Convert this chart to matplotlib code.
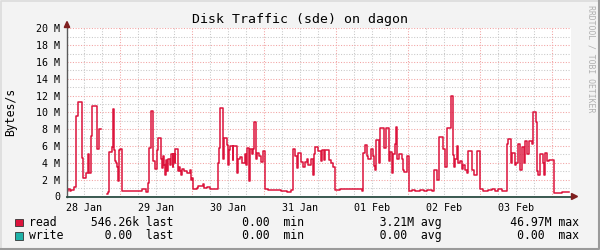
import numpy as np
import matplotlib
matplotlib.use("Agg")
import matplotlib.pyplot as plt
from matplotlib.patches import Rectangle, Polygon
from matplotlib.lines import Line2D

plt.rcParams["font.family"] = ["DejaVu Sans Mono", "DejaVu Sans"]

# read traffic: step start (hours after 28 Jan 00:00) and value (M bytes/s)
read_hours = [
    6.33, 6.83, 7.33, 7.83, 8.83, 9.33, 10.0, 11.23, 11.67, 12.57, 13.23, 13.77,
    14.33, 14.77, 16.23, 17.0, 17.5, 19.67, 20.0, 20.43, 21.23, 21.57, 22.0, 22.33,
    22.67, 22.9, 23.17, 23.43, 23.67, 23.9, 24.57, 26.0, 27.33, 28.67, 30.0, 31.43,
    32.1, 32.5, 33.23,
    33.57, 34.33, 35.0, 35.67, 36.23, 36.5, 37.67, 38.0, 38.33, 38.67, 39.0, 39.33,
    39.67, 40.0, 40.5, 41.0, 41.5, 41.83, 42.17, 42.33, 43.23, 43.67, 44.0, 44.33,
    44.67, 45.33, 46.23, 47.33, 47.67, 48.1, 48.43,
    49.57, 50.0, 51.57, 52.1, 52.9, 54.0, 55.0, 56.0, 56.77, 57.1, 57.33, 58.23,
    58.77, 59.57, 60.1, 60.43, 60.83, 61.57, 61.77, 62.9, 63.43, 64.0, 64.77, 65.5,
    66.0, 66.43, 66.9, 67.33, 68.1, 68.43, 68.67, 69.33, 69.67, 70.33, 71.0, 71.77,
    72.33, 73.33, 75.0, 77.67, 79.0, 79.57, 80.9,
    81.57, 82.17, 82.9, 83.23, 84.23, 84.9, 85.67, 86.23, 86.77, 87.57, 88.23, 88.67,
    89.0, 89.9, 90.9, 91.23, 92.1, 92.33, 93.77, 94.33, 95.1, 95.83, 97.33, 100.67,
    102.67, 104.57,
    105.1, 105.67, 106.33, 106.77, 107.57, 108.23, 108.67, 109.07, 109.43, 110.43,
    110.77, 112.0, 112.67, 113.67, 114.0, 114.57, 115.1, 115.67, 116.0, 116.33,
    117.0, 117.9, 118.33, 118.67, 119.57, 120.43,
    121.33, 122.33, 124.0, 125.33, 126.23, 127.9, 128.67, 129.77, 130.43, 131.77,
    132.33, 132.9, 134.23, 134.9, 135.33, 135.67, 136.23, 136.77, 137.33, 137.9,
    138.43, 139.0, 139.57, 140.1, 141.23, 142.0, 142.9, 144.0, 145.0, 146.67,
    147.9, 149.0, 150.1, 151.23,
    152.9, 153.43, 154.23, 154.77, 155.67, 156.0, 156.77, 157.33, 157.9, 158.67,
    159.0, 159.77, 160.43, 161.23, 161.77, 162.67, 163.1, 163.43, 164.0, 164.9,
    165.23, 165.67, 166.43, 167.1, 168.57, 169.33, 171.33, 172.83, 173.77,
]
read_vals = [
    0.6, 0.9, 0.6, 0.8, 1.1, 9.6, 11.2, 4.6, 2.2, 2.8, 5.0, 2.8,
    7.2, 10.8, 5.65, 8.0, np.nan, 0.3, 0.5, 5.3, 5.9, 10.4, 5.5, 4.2,
    4.0, 3.5, 3.2, 1.8, 5.5, 5.6, 0.65, 0.7, 0.6, 0.7, 0.65, 0.85,
    0.9, 0.55, 1.6,
    5.8, 10.2, 4.2, 3.3, 5.5, 6.9, 4.4, 3.4, 4.8, 3.7, 2.6, 4.3,
    3.0, 4.5, 3.8, 5.1, 3.5, 5.1, 4.0, 5.6, 3.0, 3.5, 3.0, 2.5,
    3.3, 3.0, 2.8, 3.2, 2.0, 2.2, 0.85,
    1.05, 1.2, 1.45, 1.05, 1.15, 0.95, 0.9, 0.85, 4.0, 5.8, 10.5, 4.5,
    7.0, 6.1, 3.8, 5.5, 6.0, 4.3, 6.0, 2.8, 4.5, 4.7, 4.0, 5.0,
    3.8, 5.8, 1.9, 5.6, 5.0, 5.6, 8.8, 4.4, 5.2, 4.8, 4.1, 5.4,
    0.95, 0.8, 0.75, 0.7, 0.65, 0.5, 0.8,
    5.7, 4.8, 3.4, 5.2, 4.1, 3.5, 4.1, 4.4, 3.8, 4.4, 2.6, 5.0,
    5.9, 5.4, 4.2, 5.5, 4.3, 5.5, 4.3, 4.0, 3.5, 0.75, 0.85, 0.9,
    0.85, 0.7,
    5.2, 6.1, 4.8, 4.5, 5.6, 4.8, 3.6, 3.2, 6.7, 4.0,
    8.2, 5.8, 8.2, 4.2, 5.3, 2.8, 5.1, 6.3, 8.3, 4.5,
    5.1, 4.5, 3.2, 2.9, 4.8, 0.7,
    0.8, 0.7, 0.8, 0.7, 0.8, 0.6, 3.2, 2.0, 7.1, 5.6,
    3.5, 8.2, 11.9, 4.9, 3.5, 4.5, 6.0, 4.0, 4.2, 3.3,
    3.7, 3.2, 2.8, 5.4, 3.2, 2.5, 5.4, 0.85, 0.6, 0.75,
    0.85, 0.7, 0.85, 0.65,
    6.2, 6.8, 4.0, 5.2, 3.8, 4.0, 6.2, 3.2, 5.9, 4.0,
    6.6, 5.0, 6.6, 6.3, 10.1, 8.9, 3.0, 2.5, 5.0, 4.0,
    2.5, 5.2, 4.2, 4.3, 0.45, 0.4, 0.48, 0.55, np.nan,
]
write_hours = [6.33, 173.77]
write_vals = [0.0, 0.0]

day_labels = ["28 Jan", "29 Jan", "30 Jan", "31 Jan", "01 Feb", "02 Feb", "03 Feb"]
day_noon = [12, 36, 60, 84, 108, 132, 156]
y_ticks = [0, 2, 4, 6, 8, 10, 12, 14, 16, 18, 20]
y_labels = ["0"] + ["%d M" % v for v in y_ticks[1:]]

legend_rows = [
    ("read", "#DC143C", ["546.26k", "0.00 ", "3.21M", "46.97M"]),
    ("write", "#1FB2A8", ["0.00 ", "0.00 ", "0.00 ", "0.00 "]),
]

W, H = 600, 250


def fx(x):
    return x / W


def fy(y):
    return 1 - y / H


fig = plt.figure(figsize=(6, 2.5), dpi=100, facecolor="#F3F3F3")
ax = fig.add_axes([fx(67), fy(196.5), 504 / W, 168.2 / H])
ax.set_facecolor("white")
xmin, xmax = 6.333, 174.333
ax.set_xlim(xmin, xmax)
ax.set_ylim(0, 20)
for s in ax.spines.values():
    s.set_visible(False)

# grid
dots = (0, (1, 1.6))
minor_x = [h for h in range(12, 174, 6) if h % 24 != 0]
major_x = [h for h in range(24, 174, 24)]
ax.vlines(minor_x, 0, 20, colors="#C8C8C8", lw=0.75, linestyles=dots, zorder=1)
ax.hlines([v for v in range(1, 21) if v % 2], xmin, xmax, colors="#C8C8C8",
          lw=0.75, linestyles=dots, zorder=1)
ax.vlines(major_x, 0, 20, colors="#F2A2A2", lw=0.75, linestyles=dots, zorder=1.5)
ax.hlines(y_ticks[1:], xmin, xmax, colors="#F2A2A2", lw=0.75, linestyles=dots,
          zorder=1.5)

# data
ax.step(read_hours, read_vals, where="post", color="#DC143C", lw=1.1, zorder=3)
ax.step(write_hours, write_vals, where="post", color="#1FB2A8", lw=1.0, zorder=3)

# axes lines
ax.plot([xmin, xmin], [0, 20.4], color="#5A5A5A", lw=1.0, zorder=4, clip_on=False)
ax.plot([xmin, xmax + 0.5], [0, 0], color="#2C4D43", lw=1.3, zorder=4, clip_on=False)

# ticks
ax.set_xticks(day_noon)
ax.set_xticklabels(day_labels, fontsize=7.2)
ax.set_yticks(y_ticks)
ax.set_yticklabels(y_labels, fontsize=7.2)
ax.tick_params(length=0, pad=5)
ax.tick_params(axis="x", pad=5)

# arrows
fig.patches.append(Polygon([(fx(64.3), fy(27.5)), (fx(69.7), fy(27.5)), (fx(67), fy(21.5))],
                           closed=True, color="#7F1F1F", transform=fig.transFigure))
fig.patches.append(Polygon([(fx(571.5), fy(193.5)), (fx(571.5), fy(199.5)), (fx(577.5), fy(196.5))],
                           closed=True, color="#7F1F1F", transform=fig.transFigure))

# texts
fig.text(fx(300), fy(19), "Disk Traffic (sde) on dagon", fontsize=9.5,
         ha="center", va="center")
fig.text(fx(11), fy(112), "Bytes/s", fontsize=8.3, rotation=90,
         ha="center", va="center")
fig.text(fx(591), fy(59), "RRDTOOL / TOBI OETIKER", fontsize=5.9, rotation=270,
         ha="center", va="center", color="#B0B0B0")

# legend
row_y = [222.5, 236]
for (name, col, vals), y in zip(legend_rows, row_y):
    fig.patches.append(Rectangle((fx(15), fy(y + 3.8)), 7.5 / W, 7.5 / H,
                                 facecolor=col, edgecolor="#333333", lw=0.6,
                                 transform=fig.transFigure))
    line = name.ljust(8)
    line += vals[0].rjust(8) + " last"
    line += vals[1].rjust(15) + " min"
    line += vals[2].rjust(16) + " avg"
    line += vals[3].rjust(16) + " max"
    fig.text(fx(29), fy(y), line, fontsize=8.3, ha="left", va="center")

# frame
fig.lines.append(Line2D([fx(0.5), fx(0.5), fx(599.5)], [fy(249), fy(0.5), fy(0.5)],
                        color="#DCDCDC", lw=1.2, transform=fig.transFigure))
fig.lines.append(Line2D([fx(0.5), fx(599), fx(599)], [fy(249), fy(249), fy(0.5)],
                        color="#9A9A9A", lw=1.5, transform=fig.transFigure))

fig.savefig("out.png", dpi=100, facecolor=fig.get_facecolor())
